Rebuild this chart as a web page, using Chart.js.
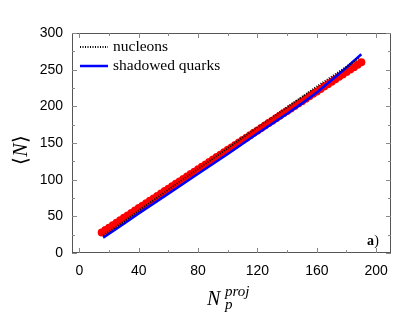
<!DOCTYPE html>
<html>
<head>
<meta charset="utf-8">
<script src="https://cdn.jsdelivr.net/npm/chart.js@4.4.1/dist/chart.umd.min.js"></script>
<style>
html,body{margin:0;padding:0;background:#fff;}
#wrap{width:407px;height:317px;position:relative;}
</style>
</head>
<body>
<div id="wrap"><canvas id="c" width="407" height="317"></canvas></div>
<script>
// ---- data ----
const redX = [15,17.5,20,22.5,25,27.5,30,32.5,35,37.5,40,42.5,45,47.5,50,52.5,55,57.5,60,62.5,65,67.5,70,72.5,75,77.5,80,82.5,85,87.5,90,92.5,95,97.5,100,102.5,105,107.5,110,112.5,115,117.5,120,122.5,125,127.5,130,132.5,135,137.5,140,142.5,145,147.5,150,152.5,155,157.5,160,162.5,165,167.5,170,172.5,175,177.5,180,182.5,185,187.5,190];
const redY = [28.0,31.3,34.6,37.9,41.3,44.6,47.9,51.2,54.5,57.8,61.2,64.5,67.8,71.1,74.4,77.7,81.0,84.4,87.7,91.0,94.3,97.6,100.9,104.3,107.6,110.9,114.2,117.5,120.8,124.1,127.5,130.8,134.1,137.4,140.7,144.0,147.3,150.7,154.0,157.3,160.6,163.9,167.2,170.5,173.9,177.2,180.5,183.8,187.1,190.4,193.8,197.1,200.4,203.7,207.0,210.3,213.6,217.0,220.3,223.6,226.9,230.2,233.5,236.8,240.2,243.5,246.8,250.1,253.4,256.7,260.0];
const nucX = [16,30,40,60,80,100,120,140,160,180,188];
const nucY = [24,43,58,86,115,143,171,199,227,254,266];
const quarkX = [16,30,40,60,80,100,120,140,150,160,170,180,190];
const quarkY = [21,40,54,81,108,135,163,190,204,219,236,253,271];
const xTicks = [0,40,80,120,160,200];
const yTicks = [0,50,100,150,200,250,300];
const legendLabels = ['nucleons','shadowed quarks'];

const pts = (xs, ys) => xs.map((x, i) => ({x: x, y: ys[i]}));

const decor = {
  id: 'decor',
  afterDraw(chart) {
    const ctx = chart.ctx;
    const a = chart.chartArea;
    const xs = chart.scales.x, ys = chart.scales.y;
    ctx.save();
    // frame
    ctx.strokeStyle = '#555';
    ctx.lineWidth = 1;
    ctx.strokeRect(a.left + 0.5, a.top + 0.5, a.right - a.left - 1, a.bottom - a.top - 1);
    // ticks
    ctx.strokeStyle = '#888';
    ctx.beginPath();
    for (let v = 0; v <= 200; v += 20) {
      const p = Math.round(xs.getPixelForValue(v)) + 0.5;
      const L = (v % 40 === 0) ? 5 : 3;
      ctx.moveTo(p, a.bottom); ctx.lineTo(p, a.bottom - L);
      ctx.moveTo(p, a.top); ctx.lineTo(p, a.top + L);
    }
    for (let v = 0; v <= 300; v += 25) {
      const p = Math.round(ys.getPixelForValue(v)) + 0.5;
      const L = (v % 50 === 0) ? 5 : 3;
      ctx.moveTo(a.left, p); ctx.lineTo(a.left + L, p);
      ctx.moveTo(a.right, p); ctx.lineTo(a.right - L, p);
    }
    ctx.stroke();

    // legend
    ctx.lineWidth = 2;
    ctx.strokeStyle = '#000';
    ctx.setLineDash([1, 1.5]);
    ctx.beginPath(); ctx.moveTo(80, 47); ctx.lineTo(108, 47); ctx.stroke();
    ctx.setLineDash([]);
    ctx.strokeStyle = '#0000ff';
    ctx.lineWidth = 2.5;
    ctx.beginPath(); ctx.moveTo(80, 66); ctx.lineTo(108, 66); ctx.stroke();
    ctx.fillStyle = '#000';
    ctx.font = '15.5px "Liberation Serif"';
    ctx.textBaseline = 'middle';
    ctx.textAlign = 'left';
    ctx.fillText(legendLabels[0], 113, 47);
    ctx.fillText(legendLabels[1], 113, 66);

    // a) label
    ctx.textBaseline = 'alphabetic';
    ctx.font = 'bold 14px "Liberation Serif"';
    ctx.fillText('a', 367, 245);
    ctx.font = '14px "Liberation Serif"';
    ctx.fillText(')', 367 + ctx.measureText('a').width + 1, 245);

    // x title N_p^proj
    ctx.font = 'italic 20px "Liberation Serif"';
    ctx.fillText('N', 207, 305);
    ctx.font = 'italic 15px "Liberation Serif"';
    ctx.fillText('proj', 225, 296);
    ctx.fillText('p', 225, 309);

    // y title <N>
    ctx.save();
    ctx.translate(22, 150);
    ctx.rotate(-Math.PI / 2);
    ctx.textBaseline = 'middle';
    ctx.textAlign = 'left';
    const f1 = '20px "Liberation Serif"', f2 = 'italic 20px "Liberation Serif"';
    ctx.font = f1; const wl = ctx.measureText('\u27E8').width;
    ctx.font = f2; const wn = ctx.measureText('N').width;
    const x0 = -(wl * 2 + wn) / 2;
    ctx.font = f1; ctx.fillText('\u27E8', x0, 0);
    ctx.font = f2; ctx.fillText('N', x0 + wl, 0);
    ctx.font = f1; ctx.fillText('\u27E9', x0 + wl + wn, 0);
    ctx.restore();
    ctx.restore();
  }
};

new Chart(document.getElementById('c'), {
  type: 'scatter',
  data: {
    datasets: [
      {label: legendLabels[0], data: pts(nucX, nucY), showLine: true, borderColor: '#000', borderWidth: 2, borderDash: [1, 1.5], pointRadius: 0, fill: false},
      {label: legendLabels[1], data: pts(quarkX, quarkY), showLine: true, borderColor: '#0000ff', borderWidth: 2.5, pointRadius: 0, fill: false},
      {label: 'data', data: pts(redX, redY), showLine: false, backgroundColor: '#ff0000', borderWidth: 0, pointRadius: 4}
    ]
  },
  options: {
    responsive: false,
    animation: false,
    layout: {padding: {top: 33, right: 16, left: 0, bottom: 0}},
    plugins: {legend: {display: false}, tooltip: {enabled: false}},
    scales: {
      x: {
        type: 'linear', min: -5, max: 210,
        afterBuildTicks: s => { s.ticks = xTicks.map(v => ({value: v})); },
        afterFit: s => { s.height = 64; },
        grid: {display: false, drawTicks: false},
        border: {display: false},
        ticks: {padding: 10, color: '#000', font: {family: 'Liberation Sans', size: 14}, maxRotation: 0}
      },
      y: {
        type: 'linear', min: 0, max: 300,
        afterBuildTicks: s => { s.ticks = yTicks.map(v => ({value: v})); },
        afterFit: s => { s.width = 72; },
        grid: {display: false, drawTicks: false},
        border: {display: false},
        ticks: {padding: 9, color: '#000', font: {family: 'Liberation Sans', size: 14}}
      }
    }
  },
  plugins: [decor]
});
</script>
</body>
</html>
